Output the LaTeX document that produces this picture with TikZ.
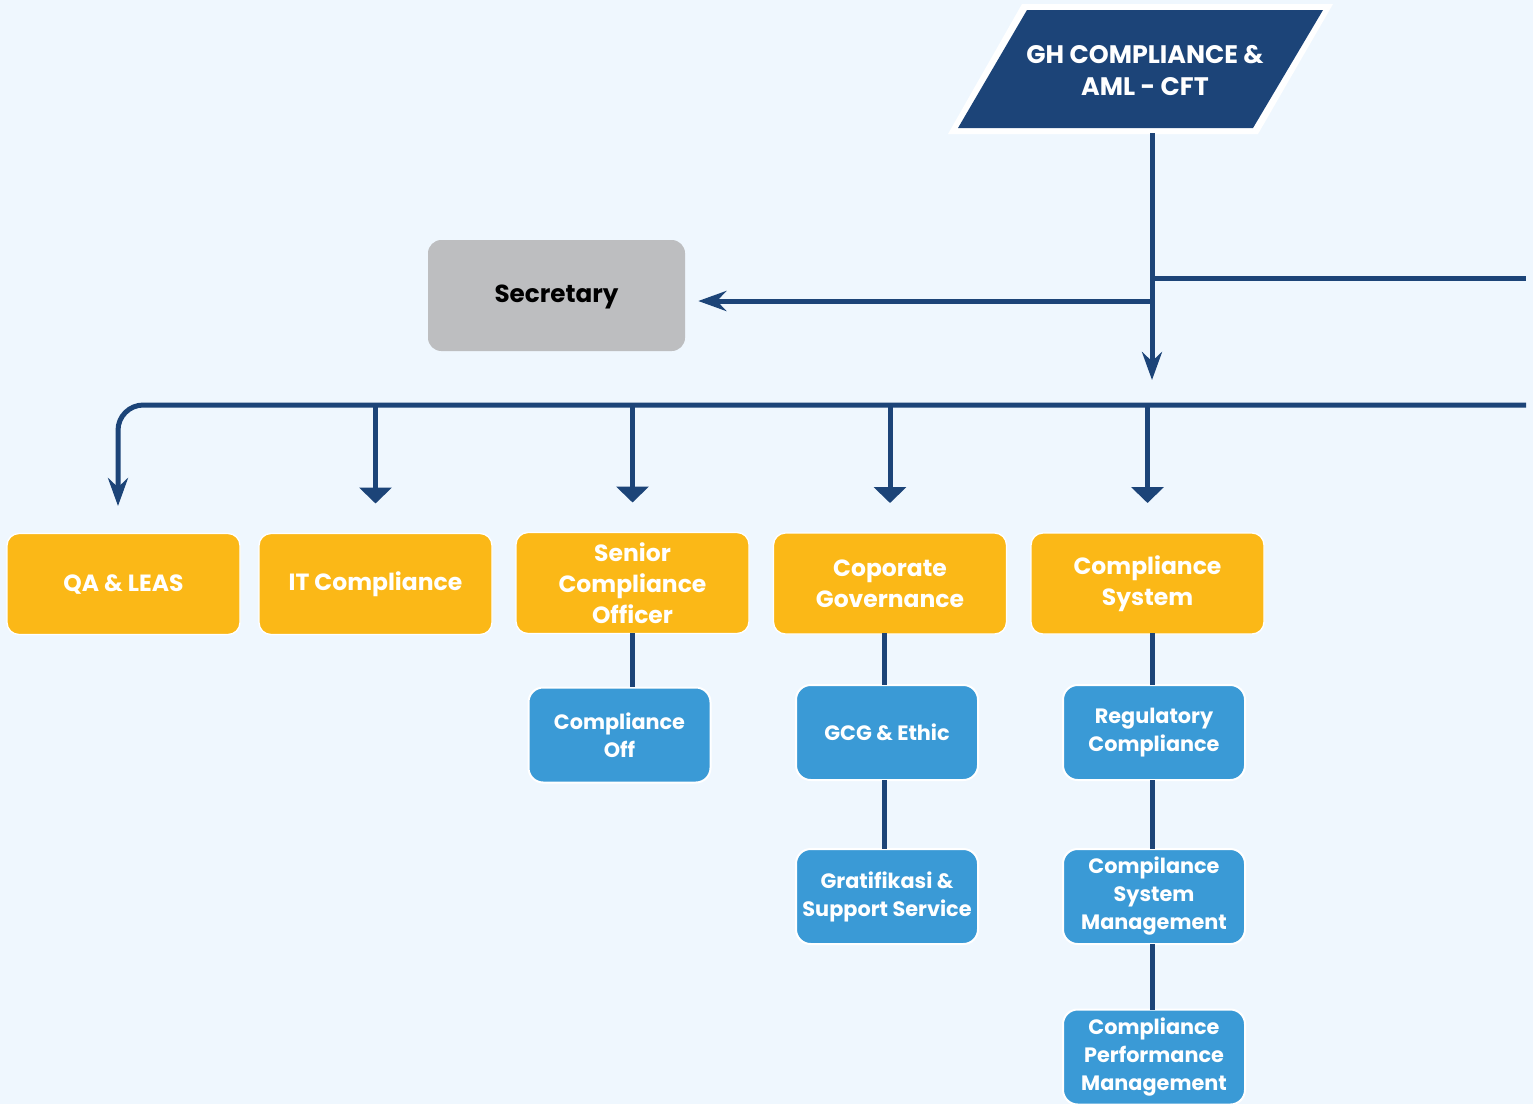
\documentclass[tikz,border=0pt]{standalone}
\usepackage{fontspec}
\setmainfont{Poppins}
\usetikzlibrary{arrows.meta}
\definecolor{bg}{HTML}{EFF7FE}
\definecolor{navy}{HTML}{1C4478}
\definecolor{amber}{HTML}{FBB817}
\definecolor{sky}{HTML}{3A9AD6}
\definecolor{greybox}{HTML}{BDBEC0}
\tikzset{
  link/.style={draw=navy, line width=3.75pt},
  stealthhead/.style={-{Stealth[length=21pt,width=15pt,inset=7pt]}},
  trihead/.style={-{Triangle[length=12pt,width=24pt]}},
  unitbox/.style={rounded corners=9pt, fill=amber, draw=white, line width=1pt,
    minimum width=174.75pt, minimum height=75.75pt, align=center,
    text=white, font=\fontsize{17.6}{23.25}\selectfont\bfseries, inner sep=0pt},
  subbox/.style={rounded corners=11pt, fill=sky, draw=white, line width=1.5pt,
    minimum width=136.5pt, minimum height=71.25pt, align=center,
    text=white, font=\fontsize{15.6}{21}\selectfont\bfseries, inner sep=0pt},
}
\begin{document}
\begin{tikzpicture}[x=0.75pt, y=-0.75pt]
  % canvas
  \fill[bg] (0,0) rectangle (1533,1104);
  \useasboundingbox (0,0) rectangle (1533,1104);
  \clip (0,0) rectangle (1533,1104);

  % head of the unit
  \fill[white] (1022,4) -- (1333,4) -- (1258,134) -- (948,134) -- cycle;
  \fill[navy] (1027,10) -- (1323,10) -- (1253,128) -- (958,128) -- cycle;
  \node[text=white, align=center, font=\fontsize{19}{24}\selectfont\bfseries]
    (head) at (1145,70) {GH COMPLIANCE \&\\AML - CFT};
  \coordinate (headfoot) at (1152,133);

  % secretary
  \node[rounded corners=10pt, fill=greybox, minimum width=192.75pt,
    minimum height=83.25pt, inner sep=0pt, text height=14pt, text depth=3.2pt,
    font=\fontsize{18.5}{23}\selectfont\bfseries]
    (sec) at (556.5,295.5) {Secretary};

  % junctions on the main trunk
  \coordinate (jright) at (1152,278);
  \coordinate (jsec) at (1152,301);
  \coordinate (trunkend) at (1152,380);
  \coordinate (eastA) at (1526,278);
  \coordinate (eastB) at (1526,405);
  \coordinate (qatip) at (118,506);

  % first-level units
  \node[unitbox] (qa)   at (123.5,584) {QA \& LEAS};
  \node[unitbox] (itc)  at (375.5,584) {IT Compliance};
  \node[unitbox] (sco)  at (632.5,583) {Senior\\Compliance\\Officer};
  \node[unitbox] (cg)   at (890,583.5)   {Coporate\\Governance};
  \node[unitbox] (csys) at (1147.5,583.5) {Compliance\\System};

  % second-level units
  \node[subbox] (coff) at (619.5,735)   {Compliance\\Off};
  \node[subbox] (gcg)  at (887,732.5)   {GCG \& Ethic};
  \node[subbox] (grat) at (887,896.5)   {Gratifikasi \&\\Support Service};
  \node[subbox] (reg)  at (1154,732.5)  {Regulatory\\Compliance};
  \node[subbox] (csm)  at (1154,896.5)  {Compilance\\System\\Management};
  \node[subbox] (cpm)  at (1154,1057)   {Compliance\\Performance\\Management};

  % trunk and side branches
  \draw[link, stealthhead] (headfoot) -- (trunkend);
  \draw[link] (jright) -- (eastA);
  \draw[link, stealthhead] (jsec) -- ([xshift=9.75pt]sec.east |- jsec);

  % distribution bus
  \draw[link, stealthhead, rounded corners=19pt]
    (eastB) -- (qatip |- eastB) -- (qatip);
  \foreach \u in {itc, sco, cg, csys}
    \draw[link, trihead] (\u.north |- eastB) -- ([yshift=22pt]\u.north);

  % sub-unit links
  \draw[link] (632,633) -- (632,687);
  \draw[link] (884,633) -- (884,685);
  \draw[link] (884,780) -- (884,849);
  \draw[link] (1152,633) -- (1152,685);
  \draw[link] (1152,780) -- (1152,849);
  \draw[link] (1152,944) -- (1152,1010);
\end{tikzpicture}
\end{document}
